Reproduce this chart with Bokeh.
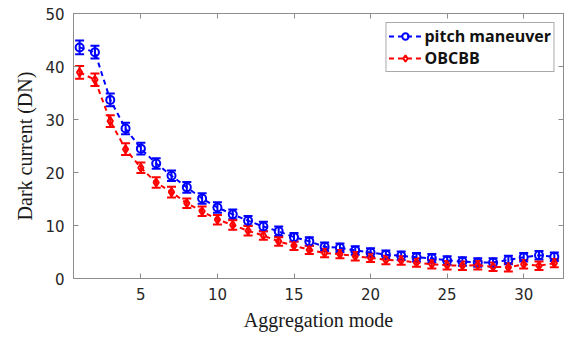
from bokeh.plotting import figure
from bokeh.models import (ColumnDataSource, Whisker, TeeHead, Legend, LegendItem,
                          LinearAxis, FixedTicker)
from bokeh.embed import file_html
from bokeh.resources import INLINE

modes = list(range(1, 33))
pitch = [43.6, 42.7, 33.7, 28.3, 24.5, 21.7, 19.4, 17.2, 15.1, 13.4, 12.1, 10.9,
         9.8, 8.9, 7.8, 7.0, 6.0, 5.8, 5.3, 4.9, 4.5, 4.3, 4.0, 3.8,
         3.4, 3.2, 3.0, 3.0, 3.5, 4.0, 4.4, 4.1]
pitch_err = [1.3, 1.2, 1.2, 1.1, 1.1, 1.0, 1.0, 1.0, 1.0, 1.0, 0.9, 0.9,
             0.9, 0.9, 0.8, 0.8, 0.8, 0.8, 0.8, 0.8, 0.8, 0.8, 0.8, 0.8,
             0.8, 0.8, 0.8, 0.8, 0.8, 0.8, 0.8, 0.8]
obcbb = [38.9, 37.5, 29.7, 24.4, 20.9, 18.1, 16.3, 14.2, 12.7, 11.1, 10.1, 9.0,
         8.1, 7.0, 6.2, 5.4, 4.8, 4.6, 4.2, 3.9, 3.5, 3.4, 3.0, 2.7,
         2.5, 2.4, 2.5, 2.2, 2.1, 2.7, 2.4, 2.9]
obcbb_err = [1.2, 1.2, 1.1, 1.1, 1.0, 1.0, 1.0, 0.9, 0.9, 0.9, 0.9, 0.9,
             0.8, 0.8, 0.8, 0.8, 0.8, 0.8, 0.8, 0.8, 0.8, 0.8, 0.8, 0.8,
             0.8, 0.8, 0.8, 0.8, 0.8, 0.8, 0.8, 0.8]
x_ticks = [5, 10, 15, 20, 25, 30]
y_ticks = [0, 10, 20, 30, 40, 50]
labels = ["pitch maneuver", "OBCBB"]

p = figure(width=571, height=337, x_range=(0.6, 32.6), y_range=(0, 50),
           output_backend="svg", toolbar_location=None,
           min_border_left=73, min_border_right=8, min_border_top=13,
           min_border_bottom=59, background_fill_color="white",
           border_fill_color="white")
p.grid.visible = False
p.outline_line_color = "#8c8c8c"

frame_col = "#8c8c8c"
for ax in (p.xaxis[0], p.yaxis[0]):
    ax.axis_line_color = frame_col
    ax.major_tick_line_color = frame_col
    ax.major_tick_in = 5
    ax.major_tick_out = 0
    ax.minor_tick_line_color = None
    ax.major_label_text_font = "DejaVu Sans"
    ax.major_label_text_font_size = "15px"
    ax.major_label_text_color = "#262626"
    ax.axis_label_text_font = "Liberation Serif"
    ax.axis_label_text_font_size = "20px"
    ax.axis_label_text_font_style = "normal"
    ax.axis_label_text_color = "#1a1a1a"
p.xaxis[0].ticker = FixedTicker(ticks=x_ticks)
p.yaxis[0].ticker = FixedTicker(ticks=y_ticks)
p.xaxis[0].axis_label = "Aggregation mode"
p.yaxis[0].axis_label = "Dark current (DN)"
p.xaxis[0].major_label_standoff = 9
p.xaxis[0].axis_label_standoff = 6
p.yaxis[0].major_label_standoff = 9
p.yaxis[0].axis_label_standoff = 6

for loc, tick in (("above", x_ticks), ("right", y_ticks)):
    ax = LinearAxis(ticker=FixedTicker(ticks=tick), axis_line_color=frame_col,
                    major_tick_line_color=frame_col, major_tick_in=5, major_tick_out=0,
                    minor_tick_line_color=None, major_label_text_font_size="1px",
                    major_label_text_color=None, major_label_standoff=0)
    p.add_layout(ax, loc)

series = [(pitch, pitch_err, "#0000ff", "circle"), (obcbb, obcbb_err, "#ff0000", "diamond")]
items = []
for (vals, err, col, mk), lab in zip(series, labels):
    src = ColumnDataSource(dict(x=modes, y=vals,
                                lo=[v - e for v, e in zip(vals, err)],
                                hi=[v + e for v, e in zip(vals, err)]))
    w = Whisker(source=src, base="x", lower="lo", upper="hi", line_color=col, line_width=2,
                upper_head=TeeHead(size=9, line_color=col, line_width=2),
                lower_head=TeeHead(size=9, line_color=col, line_width=2))
    p.add_layout(w)
    lr = p.line("x", "y", source=src, line_color=col, line_width=2, line_dash="5 4")
    sr = p.scatter("x", "y", source=src, marker=mk, size=8, fill_color=None,
                   line_color=col, line_width=2)
    items.append(LegendItem(label=lab, renderers=[lr, sr]))

legend = Legend(items=items, location="top_right", glyph_width=33, glyph_height=16,
                label_height=16, label_text_font="Open Sans", label_text_font_style="bold",
                label_text_font_size="16px", label_text_color="#111111",
                label_text_line_height=1.0,
                border_line_color="#555555", border_line_width=1,
                padding=2, spacing=0, margin=9, label_standoff=3)
p.add_layout(legend)

open("out.html", "w").write(file_html(p, INLINE))
